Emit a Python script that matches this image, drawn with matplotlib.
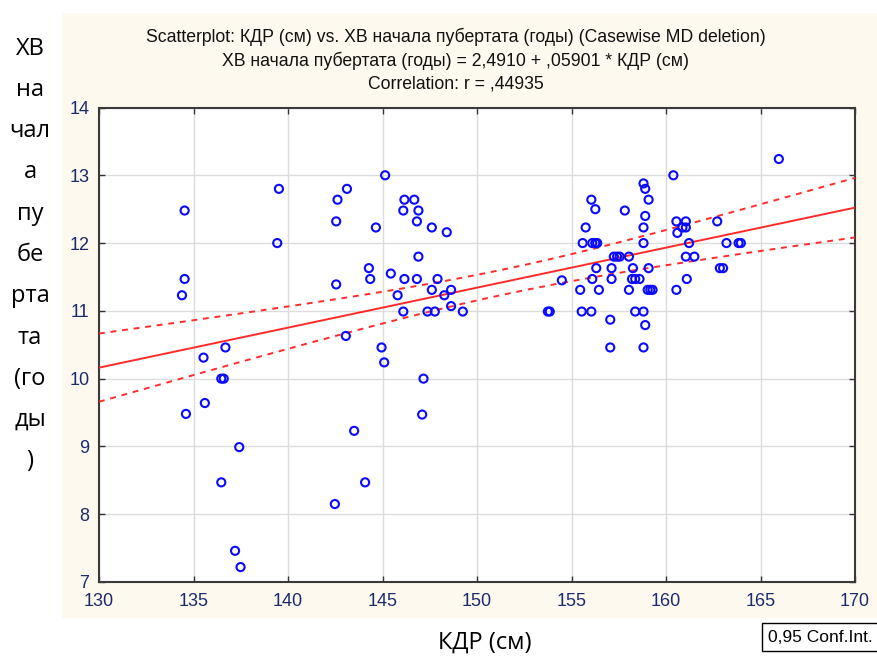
import numpy as np
import matplotlib
matplotlib.use('Agg')
import matplotlib.pyplot as plt
from matplotlib.patches import Rectangle

# --- data ---
kdr = [
    # left cluster
    134.53, 139.52, 139.43, 134.53, 134.39, 136.69, 135.53, 136.47, 136.60, 135.60,
    134.60, 137.42, 136.47, 137.20, 137.49,
    # middle cluster
    145.14, 143.12, 142.62, 142.55, 144.65, 146.16, 146.68, 146.10, 146.90, 146.82,
    147.61, 148.40, 146.90, 144.28, 144.35, 145.44, 146.16, 146.82, 147.91, 142.55,
    147.61, 148.63, 145.80, 148.27, 148.63, 146.10, 147.38, 147.77, 149.25, 143.06,
    144.95, 145.09, 147.17, 147.10, 143.50, 144.08, 142.48,
    # right cluster
    153.75, 153.85, 154.49,
    160.39, 158.81, 158.90, 159.08, 156.05, 156.26, 157.82, 158.90, 155.75, 158.81,
    160.55, 161.05, 160.87, 161.05, 160.60, 155.59, 156.10, 156.26, 156.36, 158.81,
    161.22, 157.24, 157.41, 157.55, 158.04, 161.05, 161.50, 156.31, 157.12, 158.25,
    159.08, 156.10, 157.12, 158.20, 158.37, 158.60, 161.10, 155.46, 156.45, 158.04,
    159.03, 159.17, 159.29, 160.55, 155.54, 156.05, 158.37, 158.81, 157.05, 158.90,
    157.05, 158.81,
    165.97, 162.71, 163.20, 163.84, 163.96, 162.85, 163.02,
]
hv = [
    12.48, 12.80, 12.00, 11.47, 11.23, 10.46, 10.31, 10.00, 10.00, 9.64,
    9.48, 8.99, 8.47, 7.46, 7.22,
    13.00, 12.80, 12.64, 12.32, 12.23, 12.64, 12.64, 12.48, 12.48, 12.32,
    12.23, 12.16, 11.80, 11.63, 11.47, 11.55, 11.47, 11.47, 11.47, 11.39,
    11.31, 11.31, 11.23, 11.23, 11.07, 10.99, 10.99, 10.99, 10.99, 10.63,
    10.46, 10.24, 10.00, 9.47, 9.23, 8.47, 8.15,
    10.99, 10.99, 11.45,
    13.00, 12.88, 12.80, 12.64, 12.64, 12.50, 12.48, 12.40, 12.23, 12.23,
    12.32, 12.32, 12.23, 12.23, 12.15, 12.00, 12.00, 12.00, 12.00, 12.00,
    12.00, 11.80, 11.80, 11.80, 11.80, 11.80, 11.80, 11.63, 11.63, 11.63,
    11.63, 11.47, 11.47, 11.47, 11.47, 11.47, 11.47, 11.31, 11.31, 11.31,
    11.31, 11.31, 11.31, 11.31, 10.99, 10.99, 10.99, 10.99, 10.87, 10.79,
    10.46, 10.46,
    13.24, 12.32, 12.00, 12.00, 12.00, 11.63, 11.63,
]

# regression from the chart title
INTERCEPT = 2.4910
SLOPE = 0.05901
T_95 = 1.98

x_ticks = [130, 135, 140, 145, 150, 155, 160, 165, 170]
y_ticks = [7, 8, 9, 10, 11, 12, 13, 14]

title_lines = [
    'Scatterplot: КДР (см) vs. ХВ начала пубертата (годы) (Casewise MD deletion)',
    'ХВ начала пубертата (годы) = 2,4910 + ,05901 * КДР (см)',
    'Correlation: r = ,44935',
]
ylabel_text = 'ХВ\nна\nчал\nа\nпу\nбе\nрта\nта\n(го\nды\n)'
xlabel_text = 'КДР (см)'

# --- confidence band from residuals ---
xa = np.array(kdr)
ya = np.array(hv)
n = len(xa)
resid = ya - (INTERCEPT + SLOPE * xa)
s = np.sqrt(np.sum(resid ** 2) / (n - 2))
sxx = np.sum((xa - xa.mean()) ** 2)
xl = np.linspace(130, 170, 200)
yl = INTERCEPT + SLOPE * xl
half = T_95 * s * np.sqrt(1.0 / n + (xl - xa.mean()) ** 2 / sxx)

W, H = 877, 662
fig = plt.figure(figsize=(W / 100, H / 100), dpi=100)
fig.patch.set_facecolor('white')

# cream panel behind the plot
fig.patches.append(Rectangle((62 / W, 1 - 618 / H), (W - 62) / W, (618 - 13) / H,
                             transform=fig.transFigure, facecolor='#fdf9ee',
                             edgecolor='none', zorder=-5))

ax = fig.add_axes([99 / W, 1 - 582 / H, (855 - 99) / W, (582 - 107.5) / H])
ax.set_zorder(2)
ax.set_facecolor('white')
ax.set_xlim(130, 170)
ax.set_ylim(7, 14)
ax.set_xticks(x_ticks)
ax.set_yticks(y_ticks)
ax.grid(True, color='#dcdcdc', linewidth=1.0, zorder=0)
ax.set_axisbelow(True)

tick_font = {'family': ['Liberation Sans', 'DejaVu Sans'], 'size': 13}
ax.set_xticklabels([str(t) for t in x_ticks], fontdict=tick_font, color='#1c2a6e')
ax.set_yticklabels([str(t) for t in y_ticks], fontdict=tick_font, color='#1c2a6e')
ax.tick_params(direction='in', length=4, width=1, color='#333333',
               top=True, right=True)
ax.tick_params(axis='x', pad=8)
ax.tick_params(axis='y', pad=7)
for sp in ax.spines.values():
    sp.set_color('#3a3a3a')
    sp.set_linewidth(1.5)

ax.plot(xl, yl, color='#ff2a2a', linewidth=1.4, zorder=3)
ax.plot(xl, yl + half, color='#ff2a2a', linewidth=1.4, linestyle=(0, (3, 3)), zorder=3)
ax.plot(xl, yl - half, color='#ff2a2a', linewidth=1.4, linestyle=(0, (3, 3)), zorder=3)

ax.scatter(kdr, hv, s=34, facecolors='none', edgecolors='#0a0aff',
           linewidths=1.5, zorder=4)

title_font = ['Liberation Sans Narrow', 'Liberation Sans', 'DejaVu Sans']
for i, line in enumerate(title_lines):
    fig.text(456 / W, 1 - (37 + i * 23.5) / H, line, ha='center', va='center',
             fontsize=12.7, family=title_font, color='#111111')

label_font = ['Open Sans', 'Noto Sans', 'DejaVu Sans']
fig.text(30 / W, 1 - 255 / H, ylabel_text, ha='center', va='center',
         fontsize=17, family=label_font, linespacing=1.96)
fig.text(485 / W, 1 - 643 / H, xlabel_text, ha='center', va='center',
         fontsize=17, family=label_font)

fig.text(768 / W, 1 - 637 / H, '0,95 Conf.Int.', ha='left', va='center',
         fontsize=12.5, family=['Liberation Sans', 'DejaVu Sans'],
         bbox=dict(boxstyle='square,pad=0.35', facecolor='white',
                   edgecolor='black', linewidth=1))

fig.savefig('out.png', dpi=100)
